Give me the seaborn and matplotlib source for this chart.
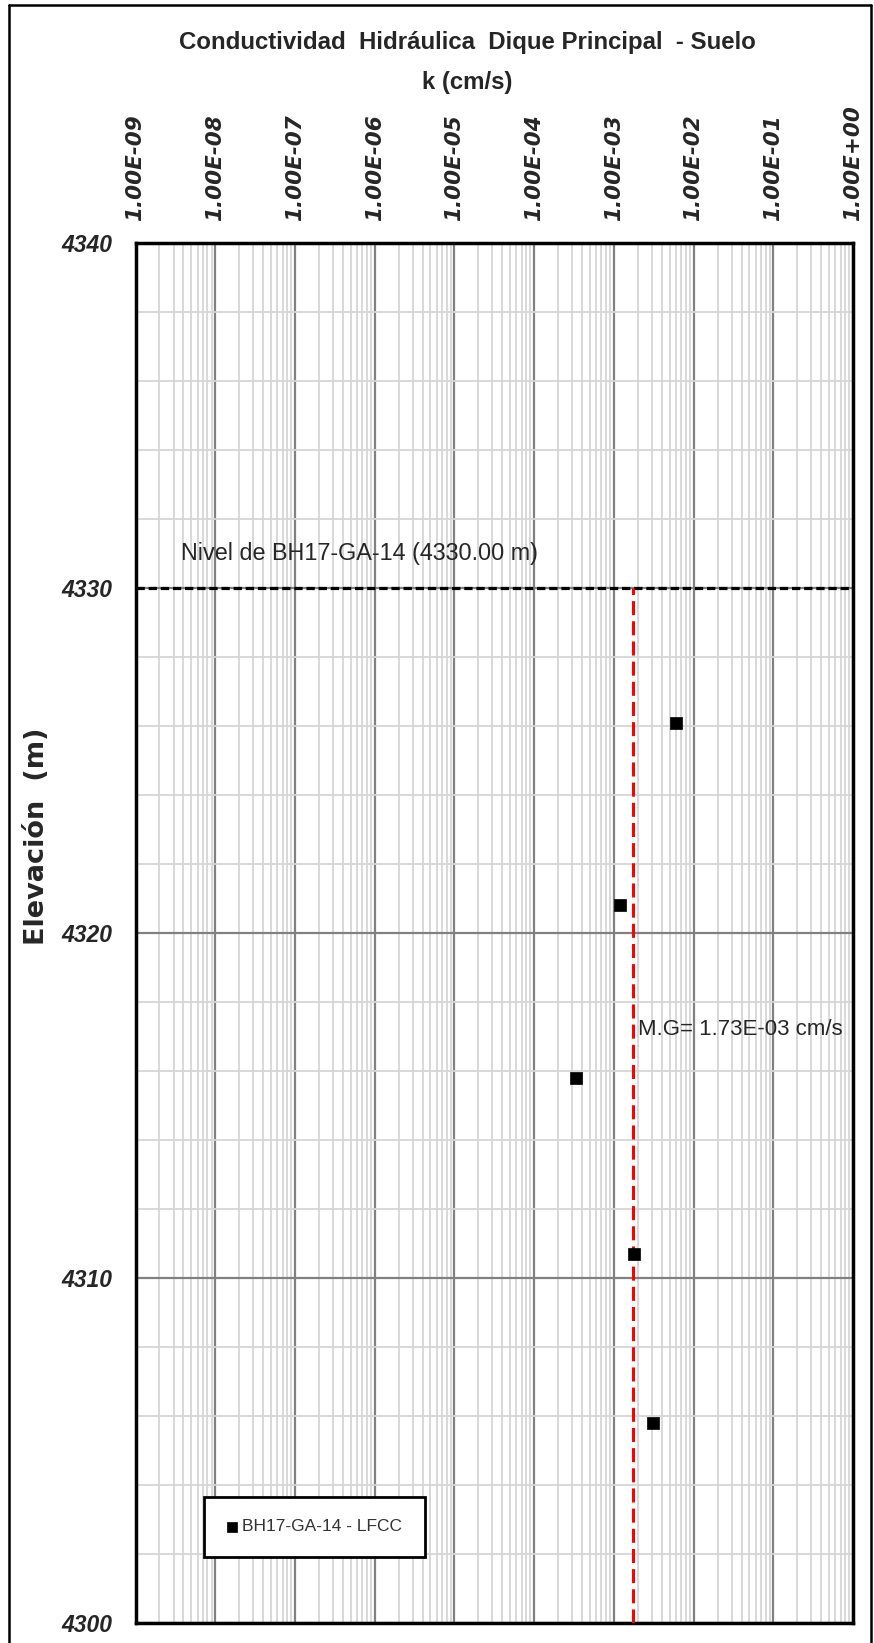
import numpy as np
import matplotlib
matplotlib.use("Agg")
import matplotlib.pyplot as plt
import matplotlib.ticker as mticker
from matplotlib.lines import Line2D
import seaborn as sns

# datos
k_vals = [6.05e-3, 1.20e-3, 3.37e-4, 1.80e-3, 3.11e-3]
elevaciones = [4326.1, 4320.8, 4315.8, 4310.7, 4305.8]
serie = "BH17-GA-14 - LFCC"
mg = 1.73e-3
nivel = 4330.0
decadas = [1e-9, 1e-8, 1e-7, 1e-6, 1e-5, 1e-4, 1e-3, 1e-2, 1e-1, 1e0]
xtick_labels = ["1.00E-09", "1.00E-08", "1.00E-07", "1.00E-06", "1.00E-05",
                "1.00E-04", "1.00E-03", "1.00E-02", "1.00E-01", "1.00E+00"]
yticks = [4300, 4310, 4320, 4330, 4340]

sns.set_style("white")
plt.rcParams['font.family'] = ['Liberation Sans', 'DejaVu Sans']

narrow = ['Liberation Sans', 'DejaVu Sans']
wide = ['DejaVu Sans']

fig = plt.figure(figsize=(8.74, 16.43), dpi=100)
ax = fig.add_axes([135.5/874, 20/1643, (853-135.5)/874, 1380/1643])

ax.set_xscale('log')
ax.set_xlim(1e-9, 1)
ax.set_ylim(4300, 4340)

# rejilla
ax.xaxis.set_major_locator(mticker.FixedLocator(decadas))
ax.xaxis.set_minor_locator(mticker.LogLocator(base=10, subs=np.arange(2, 10), numticks=20))
ax.xaxis.set_minor_formatter(mticker.NullFormatter())
ax.yaxis.set_major_locator(mticker.FixedLocator(yticks))
ax.yaxis.set_minor_locator(mticker.MultipleLocator(2))
ax.grid(which='major', axis='both', color='#808080', lw=1.6)
ax.grid(which='minor', axis='both', color='#d6d6d6', lw=1.3)
ax.set_axisbelow(True)

# lineas de referencia
ax.axhline(nivel, color='black', lw=2.3, ls=(0, (2.6, 1.2)), zorder=3)
ax.vlines(mg, 4300, nivel, color='#ff0000', lw=2.2, ls=(0, (4.6, 2.0)), zorder=3)

sns.scatterplot(x=k_vals, y=elevaciones, marker='s', s=75, color='black',
                edgecolor='black', linewidth=0.5, label=serie, ax=ax, zorder=4)

# ejes
ax.xaxis.tick_top()
ax.set_xticklabels(xtick_labels, rotation=90, fontsize=15.5, fontweight='bold',
                   fontstyle='italic', family=wide)
ax.set_yticklabels([str(v) for v in yticks], fontsize=16.5, fontweight='bold',
                   fontstyle='italic', family=narrow)
ax.tick_params(axis='x', which='both', length=0, pad=16, top=True, bottom=False)
ax.tick_params(axis='y', which='both', length=0, pad=17)
ax.set_xlabel('')
ax.set_ylabel('')
for s in ax.spines.values():
    s.set_color('black')
    s.set_linewidth(2.5)

# textos
fig.text(467/874, 1 - 43/1643, "Conductividad  Hidráulica  Dique Principal  - Suelo",
         ha='center', va='center', fontsize=17.3, fontweight='bold', family=narrow)
fig.text(467/874, 1 - 82/1643, "k (cm/s)", ha='center', va='center',
         fontsize=17.3, fontweight='bold', family=narrow)
fig.text(37/874, 1 - 836/1643, "Elevación  (m)", rotation=90, ha='center', va='center',
         fontsize=19.5, fontweight='bold', family=wide)

ax.text(10**-8.43, 4331.0, "Nivel de BH17-GA-14 (4330.00 m)", ha='left', va='center',
        fontsize=16.8, color='#262626', family=narrow)
ax.annotate("M.G= 1.73E-03 cm/s", xy=(mg, 4317.2), xytext=(4, 0), textcoords='offset points',
            ha='left', va='center', fontsize=16, color='#262626', family=narrow)

# leyenda
leg = ax.legend(loc='lower left', bbox_to_anchor=(204/874, 1 - 1557/1643),
                bbox_transform=fig.transFigure, borderaxespad=0, fancybox=False,
                frameon=True, edgecolor='black', framealpha=1, markerscale=0.75,
                handlelength=0.6, handletextpad=0.3, borderpad=1.3,
                prop={'family': narrow, 'size': 12.5})
leg.get_frame().set_linewidth(2.0)
for t in leg.get_texts():
    t.set_color('#333333')

# marco exterior
fig.add_artist(Line2D([9/874, 9/874], [0, 1 - 5/1643], color='black', lw=1.8))
fig.add_artist(Line2D([871/874, 871/874], [0, 1 - 5/1643], color='black', lw=1.8))
fig.add_artist(Line2D([9/874, 871/874], [1 - 5/1643, 1 - 5/1643], color='black', lw=1.8))

fig.savefig("out.png", dpi=100)
